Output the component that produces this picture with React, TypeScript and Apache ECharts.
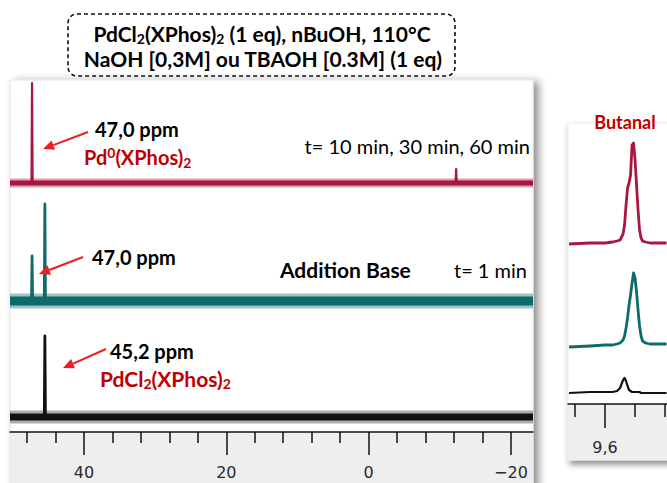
import React, { useEffect, useRef } from "react";
import * as echarts from "echarts";

// ---- 31P spectra (main panel, ppm) ----
const MAIN_MIN = -23.1;
const MAIN_MAX = 50.4;
const mainMajorTicks = [40, 20, 0, -20];
const mainMinorTicks = [48, 44, 36, 32, 28, 24, 16, 12, 8, 4, -4, -8, -12, -16];

const redPeakPpm = [47.3, -12.3];
const redPeakInt = [100, 14];
const tealPeakPpm = [47.3, 45.5];
const tealPeakInt = [45, 97];
const blackPeakPpm = [45.5];
const blackPeakInt = [81];

// ---- 1H zoom on butanal CHO (right panel, ppm) ----
const ZOOM_MIN = 9.5587;
const ZOOM_MAX = 9.6247;
const zoomMajorTicks = [9.6];
const zoomMinorTicks = [9.62, 9.58, 9.56];
const zoomPpm = [9.624, 9.61, 9.6, 9.595, 9.592, 9.59, 9.588, 9.587, 9.586, 9.585, 9.584, 9.583, 9.582, 9.581, 9.58, 9.579, 9.578, 9.577, 9.576, 9.575, 9.573, 9.57, 9.565, 9.559];
const zoomRed = [-1, 0, 0, 1, 2, 3, 9, 18, 38, 55, 60, 68, 98, 100, 83, 58, 33, 13, 5, 2, 1, 0, 0, 0];
const zoomTeal = [-2, -1, 0, 0, 1, 2, 5, 9, 17, 27, 40, 50, 62, 72, 67, 53, 35, 19, 9, 4, 2, 1, 1, 1];
const zoomBlack = [-1, 0, 0, 0, 1, 4, 12, 14, 11, 6, 2, 1, 0, 0, 0, 0, 0, 0, -1, -1, -1, -1, -1, -1];

// stacking offsets (layout)
const MAIN_Y = 352;
const mainOffset = { red: 249, teal: 131, black: 15 };
const ZOOM_Y = 281;
const zoomOffset = { red: 161, teal: 59, black: 12 };

const RED = "#a8173f";
const TEAL = "#0e6b6a";
const BLACK = "#111111";
const ANN_RED = "#c00000";

function spikes(ppms: number[], ints: number[], off: number) {
  const pts: number[][] = [[MAIN_MAX, off]];
  const idx = ppms.map((_, i) => i).sort((a, b) => ppms[b] - ppms[a]);
  const hw = 0.08;
  idx.forEach((i) => {
    pts.push([ppms[i] + hw, off], [ppms[i], off + ints[i]], [ppms[i] - hw, off]);
  });
  pts.push([MAIN_MIN, off]);
  return pts;
}

function band(off: number) {
  return [[MAIN_MAX, off], [MAIN_MIN, off]];
}

function zoomLine(vals: number[], off: number) {
  return zoomPpm.map((p, i) => [p, vals[i] + off]);
}

function arrow(x1: number, y1: number, x2: number, y2: number, color: string) {
  const dx = x2 - x1, dy = y2 - y1;
  const len = Math.hypot(dx, dy);
  const ux = dx / len, uy = dy / len;
  const hl = 11, hw = 5;
  const bx = x2 - ux * hl, by = y2 - uy * hl;
  return [
    { type: "line", z: 60, shape: { x1, y1, x2: bx, y2: by }, style: { stroke: color, lineWidth: 2 } },
    {
      type: "polygon", z: 60,
      shape: { points: [[x2, y2], [bx - uy * hw, by + ux * hw], [bx + uy * hw, by - ux * hw]] },
      style: { fill: color },
    },
  ];
}

function txt(text: string, x: number, y: number, o: any = {}) {
  const size = o.size || 18;
  const weight = o.bold === false ? "normal" : "bold";
  const color = o.color || "#000";
  const sub = Math.round(size * 0.68);
  return {
    type: "text",
    z: 70,
    style: {
      text,
      x,
      y,
      fill: color,
      fontFamily: "Lato",
      fontSize: size,
      fontWeight: weight,
      align: o.align || "left",
      verticalAlign: "middle",
      lineHeight: size + 4,
      rich: {
        n: { fontSize: size, fontWeight: weight, fontFamily: "Lato", fill: color, lineHeight: size + 4 },
        s: { fontSize: sub, fontWeight: "bold", fontFamily: "Lato", fill: color, lineHeight: sub, verticalAlign: "bottom" },
        u: { fontSize: sub, fontWeight: "bold", fontFamily: "Lato", fill: color, lineHeight: sub, verticalAlign: "top" },
      },
    },
  };
}

function lineSeries(name: string, data: number[][], color: string, width: number, xi: number, yi: number, opacity = 1) {
  return {
    name,
    type: "line",
    xAxisIndex: xi,
    yAxisIndex: yi,
    data,
    symbol: "none",
    silent: true,
    lineStyle: { color, width, opacity, join: "round" },
  };
}

const AXIS_FONT = "DejaVu Sans";

const option: any = {
  animation: false,
  backgroundColor: "#ffffff",
  grid: [
    { left: 10, right: 667 - 533, top: 80, bottom: 483 - 432 },
    { left: 568, right: 0, top: 123, bottom: 483 - 404 },
  ],
  xAxis: [
    {
      type: "value", gridIndex: 0, min: MAIN_MIN, max: MAIN_MAX, inverse: true, position: "bottom",
      axisLine: { show: true, lineStyle: { color: "#111", width: 1.5 } },
      axisTick: { show: true, customValues: mainMajorTicks, length: 23, lineStyle: { color: "#111", width: 1.5 } },
      axisLabel: {
        show: true, customValues: mainMajorTicks, margin: 32, color: "#2a2a2a", fontSize: 16, fontFamily: AXIS_FONT,
        formatter: (v: number) => String(v).replace("-", "\u2212"),
      },
      splitLine: { show: false },
    },
    {
      type: "value", gridIndex: 0, min: MAIN_MIN, max: MAIN_MAX, inverse: true, position: "bottom",
      axisLine: { show: false },
      axisTick: { show: true, customValues: mainMinorTicks, length: 11, lineStyle: { color: "#111", width: 1.5 } },
      axisLabel: { show: false },
      splitLine: { show: false },
    },
    {
      type: "value", gridIndex: 1, min: ZOOM_MIN, max: ZOOM_MAX, inverse: true, position: "bottom",
      axisLine: { show: true, lineStyle: { color: "#111", width: 1.5 } },
      axisTick: { show: true, customValues: zoomMajorTicks, length: 24, lineStyle: { color: "#111", width: 1.5 } },
      axisLabel: {
        show: true, customValues: zoomMajorTicks, margin: 35, color: "#2a2a2a", fontSize: 16, fontFamily: AXIS_FONT,
        formatter: (v: number) => v.toFixed(1).replace(".", ","),
      },
      splitLine: { show: false },
    },
    {
      type: "value", gridIndex: 1, min: ZOOM_MIN, max: ZOOM_MAX, inverse: true, position: "bottom",
      axisLine: { show: false },
      axisTick: { show: true, customValues: zoomMinorTicks, length: 13, lineStyle: { color: "#111", width: 1.5 } },
      axisLabel: { show: false },
      splitLine: { show: false },
    },
  ],
  yAxis: [
    { type: "value", gridIndex: 0, min: 0, max: MAIN_Y, show: false, splitLine: { show: false } },
    { type: "value", gridIndex: 1, min: 0, max: ZOOM_Y, show: false, splitLine: { show: false } },
  ],
  series: [
    // main panel noise bands
    lineSeries("red-band", band(mainOffset.red), RED, 9, 0, 0, 0.4),
    lineSeries("red-core", band(mainOffset.red), RED, 5, 0, 0),
    lineSeries("red", spikes(redPeakPpm, redPeakInt, mainOffset.red), RED, 2.2, 0, 0),
    lineSeries("teal-band", band(mainOffset.teal), TEAL, 15, 0, 0, 0.4),
    lineSeries("teal-core", band(mainOffset.teal), TEAL, 9, 0, 0),
    lineSeries("teal", spikes(tealPeakPpm, tealPeakInt, mainOffset.teal), TEAL, 2.8, 0, 0),
    lineSeries("black-band", band(mainOffset.black), BLACK, 13, 0, 0, 0.35),
    lineSeries("black-core", band(mainOffset.black), BLACK, 7, 0, 0),
    lineSeries("black", spikes(blackPeakPpm, blackPeakInt, mainOffset.black), BLACK, 2.8, 0, 0),
    // zoom panel
    lineSeries("z-red", zoomLine(zoomRed, zoomOffset.red), RED, 2.8, 2, 1),
    lineSeries("z-teal", zoomLine(zoomTeal, zoomOffset.teal), TEAL, 2.8, 2, 1),
    lineSeries("z-black", zoomLine(zoomBlack, zoomOffset.black), BLACK, 2.2, 2, 1),
  ],
  graphic: [
    // main panel background + shadow
    {
      type: "rect", z: -20, shape: { x: 10, y: 80, width: 523, height: 410 },
      style: { fill: "#fff", stroke: "#e6e6e6", lineWidth: 1, shadowBlur: 8, shadowOffsetX: 5, shadowOffsetY: 2, shadowColor: "rgba(0,0,0,0.45)" },
    },
    { type: "rect", z: -19, shape: { x: 10, y: 433, width: 523, height: 60 }, style: { fill: "#eeeeee" } },
    // zoom panel background
    {
      type: "rect", z: -20, shape: { x: 568, y: 123, width: 120, height: 337 },
      style: { fill: "#fff", stroke: "#ececec", lineWidth: 1, shadowBlur: 6, shadowOffsetX: 2, shadowOffsetY: 4, shadowColor: "rgba(0,0,0,0.45)" },
    },
    { type: "rect", z: -19, shape: { x: 568, y: 405, width: 120, height: 55 }, style: { fill: "#eeeeee" } },
    // title box
    {
      type: "rect", z: 50, shape: { x: 68, y: 14, width: 387, height: 62, r: 9 },
      style: { fill: "none", stroke: "#111", lineWidth: 1.6, lineDash: [4, 3] },
    },
    txt("{n|PdCl}{s|2}{n|(XPhos)}{s|2}{n| (1 eq), nBuOH, 110°C}", 262, 33, { align: "center", size: 21 }),
    txt("{n|NaOH [0,3M] ou TBAOH [0.3M] (1 eq)}", 263, 58, { align: "center", size: 21 }),
    // red spectrum annotations
    ...arrow(88, 132, 43, 149, "#ee1c25"),
    txt("{n|47,0 ppm}", 95, 129, { size: 20 }),
    txt("{n|Pd}{u|0}{n|(XPhos)}{s|2}", 84, 157, { size: 20, color: ANN_RED }),
    txt("{n|t= 10 min, 30 min, 60 min}", 530, 146, { size: 20, bold: false, align: "right" }),
    // teal annotations
    ...arrow(83, 257, 39, 274, "#ee1c25"),
    txt("{n|47,0 ppm}", 92, 257, { size: 20 }),
    txt("{n|Addition Base}", 280, 269, { size: 21 }),
    txt("{n|t= 1 min}", 527, 270, { size: 20, bold: false, align: "right" }),
    // black annotations
    ...arrow(106, 349, 63, 368, "#ee1c25"),
    txt("{n|45,2 ppm}", 110, 351, { size: 20 }),
    txt("{n|PdCl}{s|2}{n|(XPhos)}{s|2}", 100, 378, { size: 21, color: ANN_RED }),
    // zoom panel title
    txt("{n|Butanal}", 625, 122, { size: 18, align: "center", color: ANN_RED }),
  ],
};

export default function App() {
  const ref = useRef<HTMLDivElement>(null);
  useEffect(() => {
    const chart = echarts.init(ref.current!, null, { renderer: "svg" });
    chart.setOption(option);
    return () => chart.dispose();
  }, []);
  return (
    <div
      ref={ref}
      style={{ position: "fixed", left: 0, top: 0, width: 667, height: 483, background: "#fff" }}
    />
  );
}
